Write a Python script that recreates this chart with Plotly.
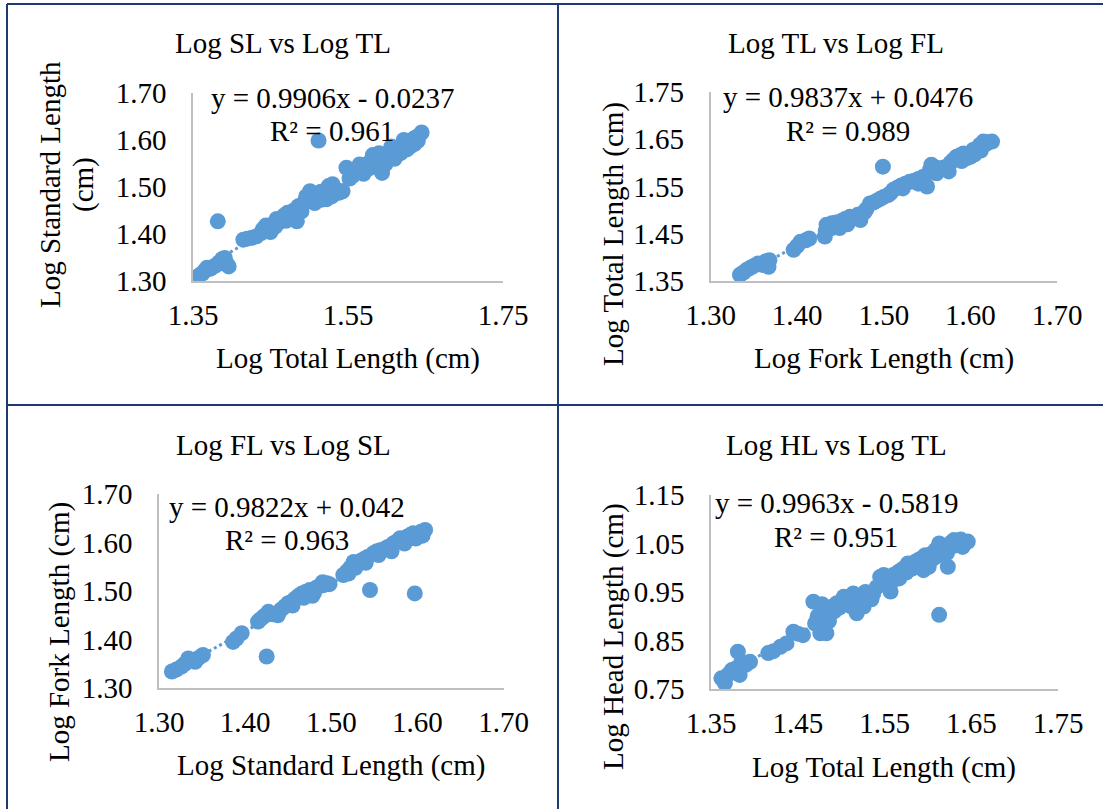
import plotly.graph_objects as go

W, H = 1103, 809

# ---------------- data ----------------
# Panel 1: Log SL vs Log TL
p1_tl = [1.358, 1.362, 1.365, 1.368, 1.372, 1.376, 1.380, 1.384, 1.388, 1.391, 1.394, 1.396, 1.382,
         1.415, 1.420, 1.426, 1.432, 1.438, 1.444, 1.448, 1.452, 1.456, 1.460, 1.464, 1.468, 1.472,
         1.476, 1.480, 1.484, 1.486, 1.490, 1.494, 1.498, 1.501, 1.507, 1.512, 1.516, 1.520, 1.525,
         1.529, 1.534, 1.539, 1.543, 1.548, 1.512, 1.552, 1.556, 1.560, 1.564, 1.568, 1.572, 1.576,
         1.580, 1.585, 1.588, 1.594, 1.596, 1.600, 1.604, 1.608, 1.612, 1.616, 1.620, 1.624, 1.628,
         1.631, 1.634, 1.638, 1.642, 1.645,
         1.440, 1.450, 1.458, 1.470, 1.478, 1.490, 1.496, 1.505, 1.515, 1.522, 1.530, 1.565, 1.570,
         1.578, 1.582, 1.590, 1.598, 1.606, 1.610, 1.618, 1.622, 1.626, 1.636, 1.640]
p1_sl = [1.312, 1.316, 1.322, 1.328, 1.326, 1.330, 1.334, 1.340, 1.347, 1.349, 1.336, 1.331, 1.427,
         1.388, 1.390, 1.392, 1.395, 1.402, 1.418, 1.414, 1.420, 1.416, 1.424, 1.430, 1.440, 1.445,
         1.438, 1.450, 1.427, 1.459, 1.462, 1.466, 1.474, 1.491, 1.466, 1.478, 1.473, 1.484, 1.502,
         1.480, 1.496, 1.488, 1.491, 1.541, 1.599, 1.518, 1.524, 1.530, 1.536, 1.540, 1.546, 1.550,
         1.556, 1.566, 1.556, 1.530, 1.562, 1.570, 1.574, 1.577, 1.576, 1.584, 1.588, 1.592, 1.596,
         1.587, 1.602, 1.606, 1.610, 1.616,
         1.410, 1.404, 1.432, 1.428, 1.432, 1.448, 1.480, 1.484, 1.490, 1.474, 1.506, 1.548, 1.528,
         1.540, 1.568, 1.572, 1.548, 1.586, 1.560, 1.572, 1.600, 1.580, 1.592, 1.598]
p1_fit = (0.9906, -0.0237)

# Panel 2: Log TL vs Log FL
p2_fl = [1.334, 1.338, 1.342, 1.346, 1.350, 1.355, 1.360, 1.364, 1.367, 1.368, 1.396, 1.400, 1.404,
         1.410, 1.414, 1.432, 1.433, 1.434, 1.440, 1.445, 1.449, 1.452, 1.456, 1.461, 1.466, 1.470,
         1.473, 1.476, 1.480, 1.484, 1.488, 1.492, 1.496, 1.499, 1.500, 1.505, 1.511, 1.516, 1.520,
         1.525, 1.530, 1.535, 1.540, 1.545, 1.550, 1.553, 1.555, 1.558, 1.561, 1.565, 1.569, 1.573,
         1.577, 1.580, 1.584, 1.588, 1.592, 1.596, 1.600, 1.603, 1.607, 1.611, 1.615, 1.620, 1.625,
         1.440, 1.458, 1.478, 1.508, 1.522, 1.540, 1.560, 1.575, 1.590, 1.605, 1.612, 1.618]
p2_tl = [1.363, 1.368, 1.374, 1.378, 1.382, 1.387, 1.384, 1.392, 1.380, 1.394, 1.416, 1.424, 1.433,
         1.436, 1.440, 1.444, 1.456, 1.469, 1.472, 1.474, 1.462, 1.478, 1.482, 1.486, 1.484, 1.490,
         1.479, 1.494, 1.502, 1.514, 1.516, 1.520, 1.524, 1.592, 1.528, 1.532, 1.543, 1.548, 1.552,
         1.556, 1.560, 1.562, 1.566, 1.570, 1.550, 1.584, 1.596, 1.580, 1.578, 1.586, 1.590, 1.592,
         1.600, 1.606, 1.613, 1.616, 1.620, 1.610, 1.613, 1.627, 1.630, 1.638, 1.645, 1.644, 1.645,
         1.462, 1.470, 1.496, 1.536, 1.546, 1.556, 1.590, 1.582, 1.604, 1.618, 1.626, 1.640]
p2_fit = (0.9837, 0.0476)

# Panel 3: Log FL vs Log SL
p3_sl = [1.315, 1.320, 1.326, 1.330, 1.334, 1.338, 1.342, 1.346, 1.351, 1.386, 1.390, 1.396, 1.415,
         1.418, 1.422, 1.425, 1.427, 1.432, 1.438, 1.442, 1.446, 1.450, 1.454, 1.458, 1.462, 1.466,
         1.470, 1.475, 1.478, 1.482, 1.486, 1.491, 1.495, 1.498, 1.514, 1.518, 1.522, 1.526, 1.530,
         1.534, 1.538, 1.542, 1.545, 1.549, 1.553, 1.557, 1.561, 1.565, 1.568, 1.572, 1.576, 1.580,
         1.584, 1.588, 1.592, 1.595, 1.597, 1.600, 1.604, 1.609,
         1.440, 1.455, 1.468, 1.480, 1.490, 1.520, 1.528, 1.540, 1.555, 1.570, 1.585, 1.598, 1.606]
p3_fl = [1.334, 1.338, 1.344, 1.350, 1.361, 1.358, 1.354, 1.362, 1.368, 1.395, 1.402, 1.413, 1.437,
         1.442, 1.448, 1.365, 1.457, 1.452, 1.450, 1.462, 1.468, 1.475, 1.478, 1.484, 1.490, 1.495,
         1.498, 1.502, 1.490, 1.506, 1.510, 1.512, 1.516, 1.514, 1.533, 1.540, 1.548, 1.560, 1.556,
         1.562, 1.566, 1.570, 1.502, 1.578, 1.582, 1.584, 1.586, 1.590, 1.591, 1.598, 1.602, 1.609,
         1.606, 1.612, 1.616, 1.619, 1.495, 1.615, 1.622, 1.626,
         1.458, 1.470, 1.486, 1.496, 1.518, 1.536, 1.548, 1.558, 1.574, 1.582, 1.598, 1.608, 1.614]
p3_fit = (0.9822, 0.042)

# Panel 4: Log HL vs Log TL
p4_tl = [1.362, 1.366, 1.370, 1.374, 1.378, 1.381, 1.383, 1.385, 1.390, 1.395, 1.416, 1.422, 1.430,
         1.437, 1.445, 1.450, 1.456, 1.468, 1.470, 1.473, 1.476, 1.478, 1.481, 1.483, 1.486, 1.490,
         1.495, 1.500, 1.506, 1.510, 1.514, 1.518, 1.522, 1.526, 1.530, 1.537, 1.541, 1.545, 1.549,
         1.553, 1.557, 1.561, 1.565, 1.569, 1.573, 1.577, 1.581, 1.585, 1.589, 1.593, 1.597, 1.601,
         1.605, 1.609, 1.613, 1.613, 1.617, 1.620, 1.623, 1.627, 1.630, 1.635, 1.640, 1.646,
         1.472, 1.480, 1.485, 1.492, 1.498, 1.503, 1.512, 1.520, 1.528, 1.535, 1.550, 1.560, 1.567,
         1.575, 1.583, 1.590, 1.595, 1.600, 1.607, 1.611, 1.615, 1.622, 1.630, 1.638]
p4_hl = [0.772, 0.762, 0.780, 0.789, 0.792, 0.827, 0.779, 0.806, 0.800, 0.806, 0.824, 0.828, 0.837,
         0.844, 0.868, 0.864, 0.861, 0.930, 0.885, 0.900, 0.865, 0.925, 0.913, 0.865, 0.890, 0.920,
         0.927, 0.930, 0.933, 0.928, 0.947, 0.906, 0.935, 0.920, 0.940, 0.947, 0.960, 0.981, 0.985,
         0.970, 0.951, 0.975, 0.990, 0.995, 1.000, 1.009, 0.998, 1.012, 1.016, 1.020, 1.026, 1.002,
         1.030, 1.037, 0.903, 1.050, 1.040, 1.045, 1.002, 1.052, 1.057, 1.050, 1.043, 1.054,
         0.890, 0.880, 0.905, 0.910, 0.918, 0.940, 0.920, 0.925, 0.950, 0.935, 0.965, 0.985, 0.978,
         0.990, 1.000, 1.005, 0.995, 1.015, 1.020, 1.025, 1.035, 1.030, 1.045, 1.058]
p4_fit = (0.9963, -0.5819)

titles = ["Log SL vs Log TL", "Log TL vs Log FL", "Log FL vs Log SL", "Log HL vs Log TL"]
x_titles = ["Log Total Length (cm)", "Log Fork Length (cm)",
            "Log Standard Length (cm)", "Log Total Length (cm)"]
y_titles = [["Log Standard Length", "(cm)"], ["Log Total Length (cm)"],
            ["Log Fork Length (cm)"], ["Log Head Length (cm)"]]
eq_texts = ["y = 0.9906x - 0.0237", "y = 0.9837x + 0.0476",
            "y = 0.9822x + 0.042", "y = 0.9963x - 0.5819"]
r2_texts = ["R² = 0.961", "R² = 0.989", "R² = 0.963", "R² = 0.951"]
x_ticks = [[1.35, 1.55, 1.75], [1.30, 1.40, 1.50, 1.60, 1.70],
           [1.30, 1.40, 1.50, 1.60, 1.70], [1.35, 1.45, 1.55, 1.65, 1.75]]
y_ticks = [[1.30, 1.40, 1.50, 1.60, 1.70], [1.35, 1.45, 1.55, 1.65, 1.75],
           [1.30, 1.40, 1.50, 1.60, 1.70], [0.75, 0.85, 0.95, 1.05, 1.15]]

series = [(p1_tl, p1_sl, p1_fit), (p2_fl, p2_tl, p2_fit),
          (p3_sl, p3_fl, p3_fit), (p4_tl, p4_hl, p4_fit)]

# ---------------- layout geometry (pixels) ----------------
plot_boxes = [  # left, right, top, bottom
    (193, 503, 93, 281),
    (710.5, 1057, 92, 281),
    (159, 503.5, 494, 688),
    (711, 1058, 495, 689),
]
title_pos = [(283, 43), (836, 43), (283, 445), (836, 445)]
eq_pos = [(333, 98), (848, 97), (287, 507), (837, 503)]
r2_pos = [(332, 131), (848, 131), (287, 540), (836, 537)]
xt_pos = [(348, 358), (884, 358), (331, 765), (884, 767)]
yt_pos = [[(50, 185), (83, 185)], [(613, 234)], [(59, 632)], [(613, 637)]]

BLUE = "#5B9BD5"
FONT = "Liberation Serif, Times New Roman, serif"
FS = 29


def px(x):
    return x / W


def py(y):
    return 1 - y / H


fig = go.Figure()
layout = dict(width=W, height=H,
              margin=dict(l=0, r=0, t=0, b=0, pad=0, autoexpand=False),
              paper_bgcolor="white", plot_bgcolor="white", showlegend=False,
              font=dict(family=FONT, size=FS, color="#000000"))
annotations = []

for i, (xs, ys, (m, b)) in enumerate(series):
    k = "" if i == 0 else str(i + 1)
    xa, ya = "x" + k, "y" + k
    x0, x1 = min(xs), max(xs)
    fig.add_trace(go.Scatter(x=[x0, x1], y=[m * x0 + b, m * x1 + b], mode="lines",
                             line=dict(color=BLUE, width=3, dash="dot"),
                             xaxis=xa, yaxis=ya, hoverinfo="skip"))
    fig.add_trace(go.Scatter(x=xs, y=ys, mode="markers",
                             marker=dict(color=BLUE, size=16, line=dict(width=0)),
                             xaxis=xa, yaxis=ya))
    l, r, t, bt = plot_boxes[i]
    xt, yt = x_ticks[i], y_ticks[i]
    layout["xaxis" + k] = dict(domain=[px(l), px(r)], anchor=ya, range=[xt[0], xt[-1]],
                               tickvals=xt, ticktext=[f"{v:.2f}" for v in xt],
                               showline=True, linecolor="#BFBFBF", linewidth=1.5,
                               showgrid=False, zeroline=False, ticks="",
                               ticklabelstandoff=7, tickfont=dict(size=FS))
    layout["yaxis" + k] = dict(domain=[py(bt), py(t)], anchor=xa, range=[yt[0], yt[-1]],
                               tickvals=yt, ticktext=[f"{v:.2f}" for v in yt],
                               showline=True, linecolor="#BFBFBF", linewidth=1.5,
                               showgrid=False, zeroline=False, ticks="",
                               ticklabelstandoff=19, tickfont=dict(size=FS))
    for txt, (ax_, ay_) in [(titles[i], title_pos[i]), (eq_texts[i], eq_pos[i]),
                            (r2_texts[i], r2_pos[i]), (x_titles[i], xt_pos[i])]:
        annotations.append(dict(text=txt, x=px(ax_), y=py(ay_), xref="paper", yref="paper",
                                xanchor="center", yanchor="middle", showarrow=False,
                                font=dict(family=FONT, size=FS, color="#000000")))
    for line_txt, (ax_, ay_) in zip(y_titles[i], yt_pos[i]):
        annotations.append(dict(text=line_txt, x=px(ax_), y=py(ay_),
                                xref="paper", yref="paper", xanchor="center", yanchor="middle",
                                textangle=-90, showarrow=False,
                                font=dict(family=FONT, size=FS, color="#000000")))

BORDER = "#1F3A70"
shapes = [
    dict(type="line", xref="paper", yref="paper", x0=px(7), x1=px(1110), y0=py(4), y1=py(4),
         line=dict(color=BORDER, width=2)),
    dict(type="line", xref="paper", yref="paper", x0=px(7), x1=px(7), y0=py(4), y1=py(815),
         line=dict(color=BORDER, width=2)),
    dict(type="line", xref="paper", yref="paper", x0=px(558), x1=px(558), y0=py(4), y1=py(815),
         line=dict(color=BORDER, width=2)),
    dict(type="line", xref="paper", yref="paper", x0=px(7), x1=px(1110), y0=py(405), y1=py(405),
         line=dict(color=BORDER, width=2)),
]

layout["annotations"] = annotations
layout["shapes"] = shapes
fig.update_layout(**layout)

fig.write_html("out.html", config={"displayModeBar": False},
               post_script="document.body.style.margin='0';document.body.style.overflow='hidden';")
